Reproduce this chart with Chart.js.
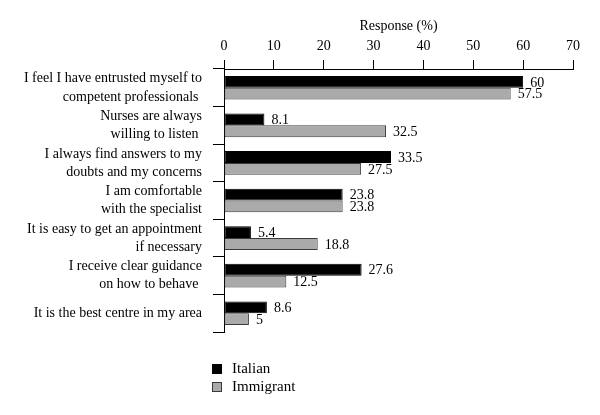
<!DOCTYPE html>
<html>
<head>
<meta charset="utf-8">
<title>Response (%)</title>
<script src="https://cdn.jsdelivr.net/npm/chart.js@4"></script>
<style>
    body { margin: 0; background: #fff; }
    canvas { display: block; }
</style>
</head>
<body>
<canvas id="responseChart" width="600" height="415"></canvas>
<script>
// --- Data ---
const categories = [
    ['I feel I have entrusted myself to', 'competent professionals '],
    ['Nurses are always', 'willing to listen '],
    ['I always find answers to my', 'doubts and my concerns'],
    ['I am comfortable', 'with the specialist'],
    ['It is easy to get an appointment', 'if necessary'],
    ['I receive clear guidance', 'on how to behave '],
    'It is the best centre in my area'
];
const seriesNames = ['Italian', 'Immigrant'];
const italian = [60, 8.1, 33.5, 23.8, 5.4, 27.6, 8.6];
const immigrant = [57.5, 32.5, 27.5, 23.8, 18.8, 12.5, 5];
const axisTitle = 'Response (%)';

const FONT = 'Liberation Serif';
Chart.defaults.font.family = FONT;
Chart.defaults.color = '#000';

// value labels to the right of every bar
const valueLabels = {
    id: 'valueLabels',
    afterDatasetsDraw(chart) {
        const ctx = chart.ctx;
        ctx.save();
        ctx.font = '14px "' + FONT + '"';
        ctx.fillStyle = '#000';
        ctx.textAlign = 'left';
        ctx.textBaseline = 'middle';
        chart.data.datasets.forEach((ds, i) => {
            chart.getDatasetMeta(i).data.forEach((bar, j) => {
                ctx.fillText(String(ds.data[j]), bar.x + 7, bar.y + 1);
            });
        });
        ctx.restore();
    }
};

// legend stacked under the plot, aligned to the axis ticks
const stackedLegend = {
    id: 'stackedLegend',
    afterDraw(chart) {
        const ctx = chart.ctx;
        const x = chart.chartArea.left - 12;
        let y = chart.chartArea.bottom + 32;
        ctx.save();
        ctx.font = '15px "' + FONT + '"';
        ctx.textBaseline = 'middle';
        chart.data.datasets.forEach(ds => {
            ctx.fillStyle = ds.backgroundColor;
            ctx.strokeStyle = ds.borderColor;
            ctx.lineWidth = 1;
            ctx.fillRect(x, y, 10, 10);
            ctx.strokeRect(x + 0.5, y + 0.5, 9, 9);
            ctx.fillStyle = '#000';
            ctx.fillText(ds.label, x + 20, y + 5);
            y += 18;
        });
        ctx.restore();
    }
};

new Chart(document.getElementById('responseChart'), {
    type: 'bar',
    data: {
        labels: categories,
        datasets: [
            {
                label: seriesNames[0],
                data: italian,
                backgroundColor: '#000000',
                borderColor: '#000000',
                borderWidth: 1,
                borderSkipped: false
            },
            {
                label: seriesNames[1],
                data: immigrant,
                backgroundColor: '#aaaaaa',
                borderColor: '#3a3a3a',
                borderWidth: 1,
                borderSkipped: false
            }
        ]
    },
    options: {
        indexAxis: 'y',
        responsive: false,
        animation: false,
        layout: { padding: { left: 0, top: 0, right: 27, bottom: 83 } },
        categoryPercentage: 0.63,
        barPercentage: 1,
        plugins: {
            legend: { display: false },
            tooltip: { enabled: false }
        },
        scales: {
            x: {
                position: 'top',
                min: 0,
                max: 70,
                afterFit(scale) { scale.height = 69; },
                ticks: { stepSize: 10, padding: 5, font: { size: 14 }, color: '#000' },
                grid: { drawOnChartArea: false, tickLength: 9, color: '#000' },
                border: { display: true, color: '#000', width: 1 },
                title: {
                    display: true,
                    text: axisTitle,
                    font: { size: 14 },
                    color: '#000',
                    padding: { top: 18, bottom: 0 }
                }
            },
            y: {
                afterFit(scale) { scale.width = 224; },
                ticks: { autoSkip: false, padding: 11, font: { size: 14, lineHeight: 1.3 }, color: '#000' },
                grid: { drawOnChartArea: false, tickLength: 11, offset: true, color: '#000' },
                border: { display: true, color: '#000', width: 1 }
            }
        }
    },
    plugins: [valueLabels, stackedLegend]
});
</script>
</body>
</html>
